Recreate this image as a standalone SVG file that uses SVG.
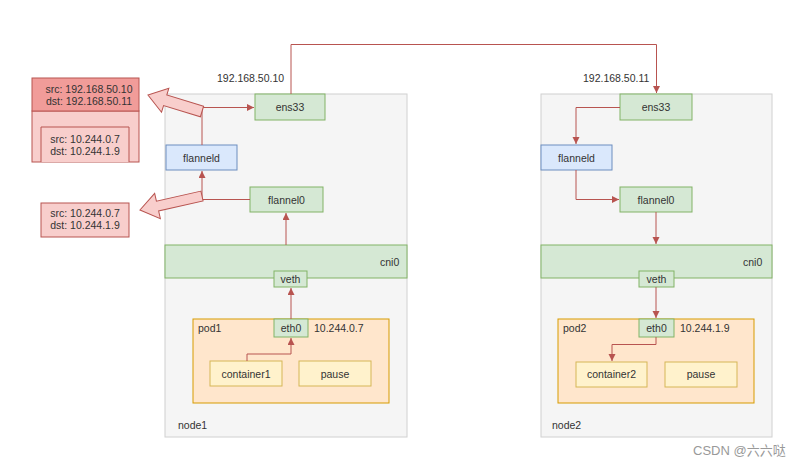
<svg xmlns="http://www.w3.org/2000/svg" width="808" height="467" viewBox="0 0 808 467">
<style>
text{font-family:"Liberation Sans",Arial,sans-serif;font-size:10.5px;fill:#333}
.c{text-anchor:middle}
.node{fill:#f5f5f5;stroke:#d0d0d0;stroke-width:1}
.g{fill:#d5e8d4;stroke:#82b366;stroke-width:1}
.b{fill:#dae8fc;stroke:#6c8ebf;stroke-width:1}
.pod{fill:#ffe6cc;stroke:#d79b00;stroke-width:1}
.ct{fill:#fff2cc;stroke:#d6b656;stroke-width:1}
.ln{fill:none;stroke:#b85450;stroke-width:1}
.big{fill:#f8cecc;stroke:#b85450;stroke-width:1}
</style>
<defs>
<marker id="ah" markerUnits="userSpaceOnUse" markerWidth="8" markerHeight="8" refX="7" refY="3.5" orient="auto">
<path d="M0,0 L7,3.5 L0,7 z" fill="#b85450"/>
</marker>
</defs>
<rect width="808" height="467" fill="#fff"/>

<g id="node1">
<rect class="node" x="165" y="94" width="242" height="343"/>
<text x="178" y="429">node1</text>
</g>
<g id="node2">
<rect class="node" x="541" y="94" width="231" height="343"/>
<text x="552" y="429">node2</text>
</g>

<g id="ens33-1"><rect class="g" x="255" y="94" width="70" height="26"/><text class="c" x="290" y="111">ens33</text></g>
<g id="flanneld-1"><rect class="b" x="166" y="145" width="71" height="25"/><text class="c" x="201.5" y="161.5">flanneld</text></g>
<g id="flannel0-1"><rect class="g" x="250" y="187" width="73" height="25"/><text class="c" x="286.5" y="203.5">flannel0</text></g>
<g id="cni0-1"><rect class="g" x="165" y="245" width="242" height="33"/><text x="380" y="266">cni0</text></g>
<g id="veth-1"><rect class="g" x="274" y="271" width="33" height="16"/><text class="c" x="290.5" y="283">veth</text></g>
<g id="pod1"><rect class="pod" x="193" y="319" width="196" height="84"/><text x="198" y="332">pod1</text><text x="314" y="332">10.244.0.7</text></g>
<g id="eth0-1"><rect class="g" x="274" y="319" width="34" height="18"/><text class="c" x="291" y="332">eth0</text></g>
<g id="container1"><rect class="ct" x="210" y="361" width="72" height="25"/><text class="c" x="246" y="377.5">container1</text></g>
<g id="pause1"><rect class="ct" x="299" y="361" width="72" height="25"/><text class="c" x="335" y="377.5">pause</text></g>

<g id="ens33-2"><rect class="g" x="620" y="94" width="72" height="26"/><text class="c" x="656" y="111">ens33</text></g>
<g id="flanneld-2"><rect class="b" x="541" y="145" width="71" height="25"/><text class="c" x="576.5" y="161.5">flanneld</text></g>
<g id="flannel0-2"><rect class="g" x="620" y="187" width="72" height="25"/><text class="c" x="656" y="203.5">flannel0</text></g>
<g id="cni0-2"><rect class="g" x="541" y="245" width="231" height="33"/><text x="743" y="266">cni0</text></g>
<g id="veth-2"><rect class="g" x="639" y="271" width="35" height="16"/><text class="c" x="656.5" y="283">veth</text></g>
<g id="pod2"><rect class="pod" x="558" y="319" width="196" height="84"/><text x="563" y="332">pod2</text><text x="680" y="332">10.244.1.9</text></g>
<g id="eth0-2"><rect class="g" x="639" y="319" width="35" height="18"/><text class="c" x="656.5" y="332">eth0</text></g>
<g id="container2"><rect class="ct" x="576" y="362" width="71" height="25"/><text class="c" x="611.5" y="378">container2</text></g>
<g id="pause2"><rect class="ct" x="665" y="362" width="72" height="25"/><text class="c" x="701" y="378">pause</text></g>

<g id="ip-labels">
<text x="217" y="82">192.168.50.10</text>
<text x="583" y="82">192.168.50.11</text>
</g>

<g id="packet-outer">
<rect x="32" y="111" width="107" height="51" fill="#f8cecc" stroke="#b85450"/>
<rect x="32" y="78" width="107" height="33" fill="#f19c99" stroke="#b85450"/>
<text class="c" x="89" y="93">src: 192.168.50.10</text>
<text class="c" x="89" y="105">dst: 192.168.50.11</text>
<path d="M41,162 V127 H129 V162" fill="#f8cecc" stroke="#b85450"/>
<text class="c" x="85" y="143">src: 10.244.0.7</text>
<text class="c" x="85" y="155">dst: 10.244.1.9</text>
</g>
<g id="packet-inner">
<rect x="41" y="203" width="88" height="34" fill="#f8cecc" stroke="#b85450"/>
<text class="c" x="85" y="217">src: 10.244.0.7</text>
<text class="c" x="85" y="229">dst: 10.244.1.9</text>
</g>

<g id="connectors">
<polyline class="ln" points="247,361 247,354 291,354 291,338" marker-end="url(#ah)"/>
<polyline class="ln" points="291,319 291,288" marker-end="url(#ah)"/>
<polyline class="ln" points="286,245 286,213" marker-end="url(#ah)"/>
<polyline class="ln" points="250,199.5 202,199.5 202,171" marker-end="url(#ah)"/>
<polyline class="ln" points="202,145 202,107.5 254,107.5" marker-end="url(#ah)"/>
<polyline class="ln" points="291,94 291,44.5 656.5,44.5 656.5,93" marker-end="url(#ah)"/>
<polyline class="ln" points="620,107.5 576,107.5 576,144" marker-end="url(#ah)"/>
<polyline class="ln" points="576,170 576,199.5 619,199.5" marker-end="url(#ah)"/>
<polyline class="ln" points="656,212 656,244" marker-end="url(#ah)"/>
<polyline class="ln" points="656,287 656,318" marker-end="url(#ah)"/>
<polyline class="ln" points="656,337 656,344.5 612,344.5 612,361" marker-end="url(#ah)"/>
<polygon class="big" transform="translate(202,111.5) rotate(17)" points="0,-5.5 -38.5,-5.5 -38.5,-12.5 -56.5,0 -38.5,12.5 -38.5,5.5 0,5.5"/>
<polygon class="big" transform="translate(202,196) rotate(-12.7)" points="0,-5 -45.6,-5 -45.6,-13 -63.6,0 -45.6,13 -45.6,5 0,5"/>
</g>

<text x="693" y="455" style="font-family:'Liberation Sans','Noto Sans CJK SC',sans-serif;font-size:13px;fill:#999">CSDN @六六哒</text>
</svg>
